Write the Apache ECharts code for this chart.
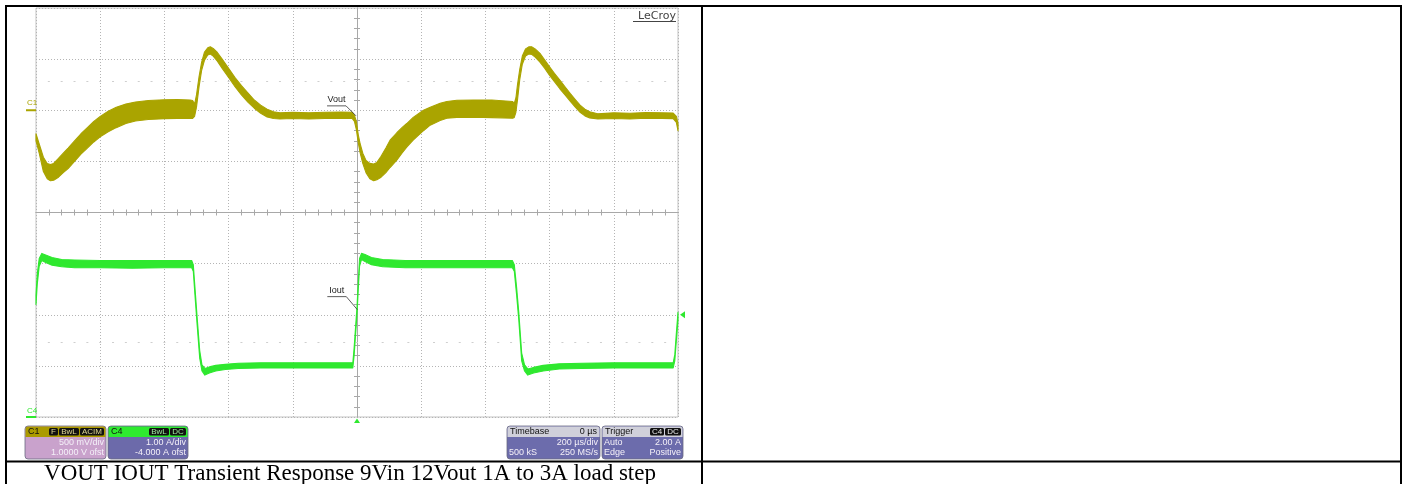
<!DOCTYPE html>
<html>
<head>
<meta charset="utf-8">
<script src="https://cdn.jsdelivr.net/npm/echarts@6/dist/echarts.min.js"></script>
<style>
html,body{margin:0;padding:0;background:#fff;}
#c{width:1405px;height:484px;}
</style>
</head>
<body>
<div id="c"></div>
<script>
// ---- time base: 200 us/div, 10 divisions, trigger at 0 us ----
const timeRange = [-1000, 1000];
const timeStep = 200;

// ---- C1 Vout (AC, mV relative to C1 marker), rows: [t_us, lowerEnvelope_mV, upperEnvelope_mV] ----
const voutEnvelope = [
  [-1000,-300,-230],[-990,-420,-330],[-977,-600,-460],[-965,-670,-520],[-955,-690,-530],
  [-945,-685,-520],[-930,-655,-470],[-915,-610,-420],[-900,-570,-370],[-880,-500,-300],
  [-860,-430,-230],[-840,-370,-170],[-820,-310,-110],[-800,-260,-60],[-775,-210,-10],
  [-750,-170,30],[-720,-130,60],[-690,-105,80],[-650,-90,95],[-600,-82,103],
  [-560,-80,105],[-520,-80,100],[-512,-80,95],[-506,-60,60],[-500,30,150],
  [-492,230,330],[-484,390,470],[-475,490,570],[-465,540,610],[-457,550,620],
  [-448,530,605],[-435,480,565],[-420,410,500],[-400,320,410],[-380,230,320],
  [-360,150,240],[-340,80,170],[-320,20,100],[-300,-30,50],[-280,-65,10],
  [-260,-80,-15],[-240,-85,-25],[-200,-80,-20],[-150,-85,-25],[-100,-80,-20],
  [-50,-78,-18],[-15,-80,-20],[-8,-110,-50],[-2,-190,-110],[4,-320,-240],
  [10,-420,-330],[18,-520,-420],[28,-610,-490],[40,-670,-520],[52,-690,-525],
  [62,-680,-510],[75,-655,-450],[90,-610,-370],[103,-560,-293],[124,-488,-220],
  [140,-420,-170],[155,-360,-130],[175,-293,-70],[207,-200,0],[228,-146,30],
  [259,-100,68],[280,-78,85],[311,-70,98],[363,-68,100],[420,-72,100],
  [485,-78,85],[490,-70,70],[495,-20,120],[500,100,250],[507,300,400],
  [515,450,530],[525,530,600],[535,550,620],[545,545,620],[555,520,600],
  [570,470,557],[585,410,490],[600,340,424],[615,280,360],[632,210,294],
  [648,150,230],[664,90,166],[680,30,105],[695,-20,50],[710,-55,10],
  [725,-75,-15],[750,-85,-35],[800,-80,-25],[850,-85,-30],[900,-78,-22],
  [950,-80,-25],[985,-82,-28],[995,-120,-60],[1000,-200,-130]
];

// ---- C4 Iout (A), rows: [t_us, lowerEnvelope_A, upperEnvelope_A] ----
const ioutEnvelope = [
  [-1000,2.2,2.38],[-996,2.6,2.8],[-990,2.95,3.1],[-982,3.06,3.2],[-970,3.02,3.17],
  [-950,2.97,3.12],[-920,2.94,3.08],[-880,2.92,3.07],[-800,2.92,3.06],[-700,2.91,3.06],
  [-600,2.92,3.06],[-515,2.92,3.06],[-510,2.85,2.98],[-505,2.4,2.55],[-498,1.8,1.95],
  [-490,1.15,1.3],[-483,0.9,1.02],[-474,0.82,0.95],[-460,0.86,0.98],[-440,0.9,1.01],
  [-410,0.93,1.03],[-370,0.95,1.05],[-300,0.96,1.06],[-200,0.96,1.06],[-100,0.96,1.06],
  [-13,0.96,1.06],[-9,1.2,1.35],[-4,1.65,1.8],[0,2.0,2.15],[4,2.5,2.65],
  [8,2.95,3.1],[14,3.08,3.2],[25,3.04,3.18],[45,2.98,3.12],[80,2.94,3.08],
  [150,2.92,3.06],[300,2.92,3.06],[484,2.92,3.06],[490,2.85,2.98],[497,2.4,2.55],
  [504,1.9,2.05],[513,1.1,1.25],[522,0.9,1.02],[532,0.82,0.94],[550,0.86,0.97],
  [580,0.9,1.01],[630,0.94,1.04],[700,0.95,1.05],[800,0.96,1.06],[900,0.96,1.06],
  [985,0.96,1.06],[990,1.1,1.22],[995,1.5,1.65],[1000,1.9,2.05]
];

// ---- vertical scales ----
const voutRange = [-3000, 1000];   // 500 mV/div, 1.0000 V offset
const voutStep = 500;
const ioutRange = [0, 8];          // 1.00 A/div, -4.000 A offset
const ioutStep = 1;
const divRange = [-4, 4];
const faintRows = [2.57, -2.54];   // faint dotted rows (divisions)

// ---- trigger ----
const triggerTime = 0;
const triggerLevel = 2.0;

// ---- labels ----
const voutLabel = 'Vout', voutLabelAt = [-3, -55];
const ioutLabel = 'Iout', ioutLabelAt = [1, 2.1];
const c1Header = 'C1', c1Badges = ['F', 'BwL', 'ACIM'], c1Rows = [['', '500 mV/div'], ['', '1.0000 V ofst']];
const c4Header = 'C4', c4Badges = ['BwL', 'DC'], c4Rows = [['', '1.00 A/div'], ['', '-4.000 A ofst']];
const tbHeader = ['Timebase', '0 µs'], tbRows = [['', '200 µs/div'], ['500 kS', '250 MS/s']];
const trHeader = 'Trigger', trBadges = ['C4', 'DC'], trRows = [['Auto', '2.00 A'], ['Edge', 'Positive']];
const caption = 'VOUT IOUT Transient Response 9Vin 12Vout 1A to 3A load step';

const VOUT_COLOR = '#aaa400';
const IOUT_COLOR = '#2fe82f';
const GRID_COLOR = '#b4b4b4';
const SANS = '"Liberation Sans", Arial, sans-serif';

function bandSeries(rows, yIdx, color) {
  return {
    type: 'custom', xAxisIndex: 0, yAxisIndex: yIdx, silent: true, animation: false, z: 5,
    data: rows,
    encode: { x: 0, y: [1, 2] },
    renderItem: function (params, api) {
      if (params.dataIndex !== 0) return null;
      const pts = [];
      for (let i = 0; i < rows.length; i++) pts.push(api.coord([rows[i][0], rows[i][2]]));
      for (let i = rows.length - 1; i >= 0; i--) pts.push(api.coord([rows[i][0], rows[i][1]]));
      return { type: 'polygon', shape: { points: pts },
        style: { fill: color, stroke: color, lineWidth: 1.1, lineJoin: 'round' } };
    }
  };
}

const dotted = { color: GRID_COLOR, width: 1, type: [1, 2] };
const solidAxis = { color: '#a8a8a8', width: 1 };

const option = {
  backgroundColor: '#ffffff',
  animation: false,
  grid: { left: 36, top: 8, width: 642, height: 409, show: true, borderColor: '#c2c2c2', borderWidth: 1, containLabel: false },
  xAxis: [
    { type: 'value', position: 'bottom', min: timeRange[0], max: timeRange[1], interval: timeStep,
      axisLabel: { show: false }, axisTick: { show: false },
      axisLine: { show: true, onZero: true, onZeroAxisIndex: 2, lineStyle: solidAxis },
      minorTick: { show: true, splitNumber: 5, length: 3, lineStyle: { color: '#a8a8a8' } },
      splitLine: { show: true, lineStyle: dotted } },
    { type: 'value', position: 'top', min: timeRange[0], max: timeRange[1], interval: timeStep,
      axisLabel: { show: false }, axisTick: { show: false },
      axisLine: { show: true, onZero: true, onZeroAxisIndex: 2, lineStyle: solidAxis },
      minorTick: { show: true, splitNumber: 5, length: 3, lineStyle: { color: '#a8a8a8' } },
      splitLine: { show: false } }
  ],
  yAxis: [
    { type: 'value', show: false, min: voutRange[0], max: voutRange[1], interval: voutStep, splitLine: { show: false } },
    { type: 'value', show: false, min: ioutRange[0], max: ioutRange[1], interval: ioutStep, splitLine: { show: false } },
    { type: 'value', position: 'left', min: divRange[0], max: divRange[1], interval: 1,
      axisLabel: { show: false }, axisTick: { show: false },
      axisLine: { show: true, onZero: true, onZeroAxisIndex: 0, lineStyle: solidAxis },
      minorTick: { show: true, splitNumber: 5, length: 3, lineStyle: { color: '#a8a8a8' } },
      splitLine: { show: true, lineStyle: dotted } },
    { type: 'value', position: 'right', min: divRange[0], max: divRange[1], interval: 1,
      axisLabel: { show: false }, axisTick: { show: false },
      axisLine: { show: true, onZero: true, onZeroAxisIndex: 0, lineStyle: solidAxis },
      minorTick: { show: true, splitNumber: 5, length: 3, lineStyle: { color: '#a8a8a8' } },
      splitLine: { show: false } }
  ],
  series: [
    bandSeries(voutEnvelope, 0, VOUT_COLOR),
    bandSeries(ioutEnvelope, 1, IOUT_COLOR),
    { type: 'line', xAxisIndex: 0, yAxisIndex: 2, data: [], silent: true, symbol: 'none',
      markLine: { silent: true, symbol: 'none', label: { show: false },
        lineStyle: { color: '#cfcfcf', width: 1, type: [2, 10.84], dashOffset: 1 },
        data: faintRows.map(v => ({ yAxis: v })) } }
  ]
};

const chart = echarts.init(document.getElementById('c'), null, { renderer: 'canvas', width: 1405, height: 484 });
chart.setOption(option);

const pV = v => chart.convertToPixel({ seriesIndex: 0 }, v);
const pI = v => chart.convertToPixel({ seriesIndex: 1 }, v);

const g = [];
// table borders
function hline(x1, x2, y) { g.push({ type: 'line', silent: true, z: 100, shape: { x1, y1: y, x2, y2: y }, style: { stroke: '#000', lineWidth: 2 } }); }
function vline(x, y1, y2) { g.push({ type: 'line', silent: true, z: 100, shape: { x1: x, y1, x2: x, y2 }, style: { stroke: '#000', lineWidth: 2 } }); }
hline(5, 1402, 6);
hline(5, 1402, 461.5);
vline(6, 5, 484);
vline(702, 5, 484);
vline(1401, 5, 484);

// caption
g.push({ type: 'text', silent: true, z: 100, style: { text: caption, x: 350, y: 473.5, align: 'center', verticalAlign: 'middle',
  font: '23px "Liberation Serif", "Times New Roman", serif', fill: '#000' } });

// LeCroy logo
g.push({ type: 'text', silent: true, z: 100, style: { text: 'LeCroy', x: 676, y: 16.5, align: 'right', verticalAlign: 'middle',
  font: '11px "DejaVu Sans", sans-serif', fill: '#444' } });
g.push({ type: 'line', silent: true, z: 100, shape: { x1: 633, y1: 21.5, x2: 676, y2: 21.5 }, style: { stroke: '#444', lineWidth: 1 } });

// channel markers
const c1y = pV([timeRange[0], 0])[1];
const c4y = pI([timeRange[0], 0])[1];
const gl = pV([timeRange[0], 0])[0];
g.push({ type: 'text', silent: true, z: 100, style: { text: 'C1', x: gl - 9, y: c1y - 7, align: 'left', verticalAlign: 'middle', font: '8px ' + SANS, fill: VOUT_COLOR } });
g.push({ type: 'line', silent: true, z: 100, shape: { x1: gl - 10, y1: c1y, x2: gl, y2: c1y }, style: { stroke: VOUT_COLOR, lineWidth: 2 } });
g.push({ type: 'text', silent: true, z: 100, style: { text: 'C4', x: gl - 9, y: c4y - 6, align: 'left', verticalAlign: 'middle', font: '8px ' + SANS, fill: IOUT_COLOR } });
g.push({ type: 'line', silent: true, z: 100, shape: { x1: gl - 10, y1: c4y, x2: gl, y2: c4y }, style: { stroke: IOUT_COLOR, lineWidth: 2 } });

// trace labels with leader lines
function traceLabel(text, anchor, dx, dy) {
  const ux = anchor[0] + dx, uy = anchor[1] + dy;
  g.push({ type: 'line', silent: true, z: 100, shape: { x1: ux, y1: uy, x2: anchor[0], y2: anchor[1] }, style: { stroke: '#333', lineWidth: 0.8 } });
  g.push({ type: 'line', silent: true, z: 100, shape: { x1: ux - 19, y1: uy, x2: ux, y2: uy }, style: { stroke: '#333', lineWidth: 0.8 } });
  g.push({ type: 'text', silent: true, z: 100, style: { text, x: ux - 9.5, y: uy - 1.5, align: 'center', verticalAlign: 'bottom', font: '9px ' + SANS, fill: '#222' } });
}
traceLabel(voutLabel, pV(voutLabelAt), -10, -10);
traceLabel(ioutLabel, pI(ioutLabelAt), -11, -13);

// trigger markers
const tb = pI([triggerTime, ioutRange[0]]);
g.push({ type: 'polygon', silent: true, z: 100, shape: { points: [[tb[0] - 3, tb[1] + 6], [tb[0] + 3, tb[1] + 6], [tb[0], tb[1] + 1.5]] }, style: { fill: IOUT_COLOR } });
const tr = pI([timeRange[1], triggerLevel]);
g.push({ type: 'polygon', silent: true, z: 100, shape: { points: [[tr[0] + 2, tr[1]], [tr[0] + 7, tr[1] - 3.5], [tr[0] + 7, tr[1] + 3.5]] }, style: { fill: IOUT_COLOR } });

// info boxes
const mctx = document.createElement('canvas').getContext('2d');
mctx.font = '8px ' + SANS;
const BOX_Y = 426, BOX_H = 33, HEAD_H = 10.5;
function infoBox(x, w, headColor, bodyColor, headLeft, headRight, badges, rows, badgeText) {
  g.push({ type: 'rect', silent: true, z: 100, shape: { x, y: BOX_Y, width: w, height: BOX_H, r: 3 }, style: { fill: bodyColor, stroke: '#6a6a80', lineWidth: 0.8 } });
  g.push({ type: 'rect', silent: true, z: 101, shape: { x: x + 0.5, y: BOX_Y + 0.5, width: w - 1, height: HEAD_H, r: [2.5, 2.5, 0, 0] }, style: { fill: headColor } });
  g.push({ type: 'text', silent: true, z: 102, style: { text: headLeft, x: x + 3, y: BOX_Y + 6, align: 'left', verticalAlign: 'middle', font: '9px ' + SANS, fill: '#111' } });
  if (headRight) g.push({ type: 'text', silent: true, z: 102, style: { text: headRight, x: x + w - 3, y: BOX_Y + 6, align: 'right', verticalAlign: 'middle', font: '9px ' + SANS, fill: '#111' } });
  let bx = x + w - 2;
  for (let i = badges.length - 1; i >= 0; i--) {
    const bw = Math.round(mctx.measureText(badges[i]).width + 4);
    bx -= bw;
    g.push({ type: 'rect', silent: true, z: 102, shape: { x: bx, y: BOX_Y + 2, width: bw, height: 7.5, r: 1.5 }, style: { fill: '#111' } });
    g.push({ type: 'text', silent: true, z: 103, style: { text: badges[i], x: bx + bw / 2, y: BOX_Y + 6, align: 'center', verticalAlign: 'middle', font: '8px ' + SANS, fill: badgeText } });
    bx -= 1;
  }
  rows.forEach((r, i) => {
    const y = BOX_Y + 16.5 + i * 10.5;
    if (r[0]) g.push({ type: 'text', silent: true, z: 102, style: { text: r[0], x: x + 2, y, align: 'left', verticalAlign: 'middle', font: '9px ' + SANS, fill: '#f4f0f8' } });
    if (r[1]) g.push({ type: 'text', silent: true, z: 102, style: { text: r[1], x: x + w - 2, y, align: 'right', verticalAlign: 'middle', font: '9px ' + SANS, fill: '#f4f0f8' } });
  });
}
infoBox(25, 81, '#ab9b00', '#c9a2cc', c1Header, '', c1Badges, c1Rows, '#e0d890');
infoBox(108, 80, '#2fea2f', '#6c6aaa', c4Header, '', c4Badges, c4Rows, '#9ff09f');
infoBox(507, 93, '#d0d0da', '#6c6cac', tbHeader[0], tbHeader[1], [], tbRows, '#ddd');
infoBox(602, 81, '#d0d0da', '#6c6cac', trHeader, '', trBadges, trRows, '#e8e8e8');

chart.setOption({ graphic: g });
</script>
</body>
</html>
